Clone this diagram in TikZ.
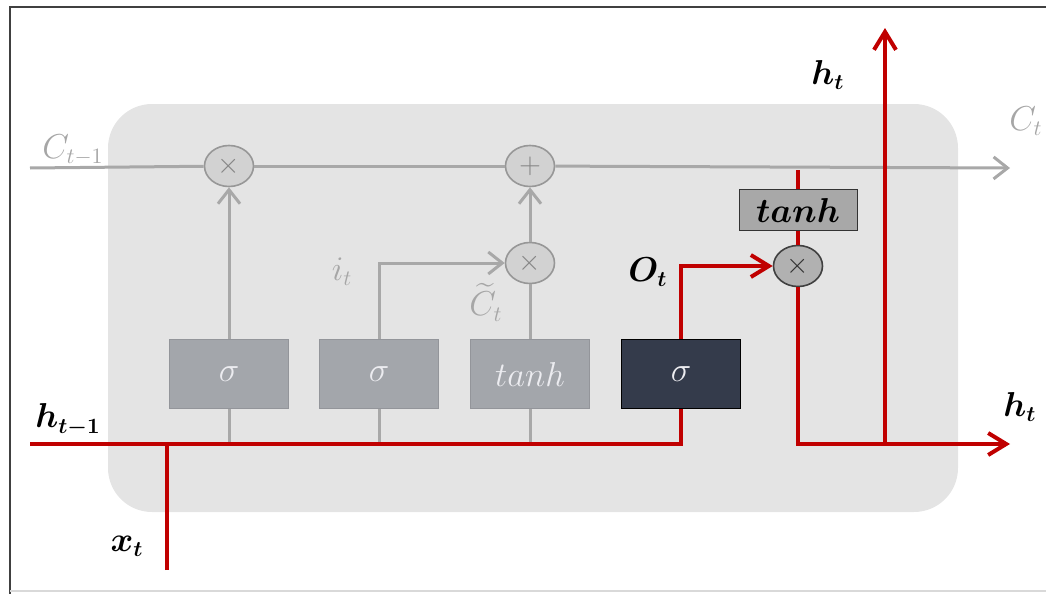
\documentclass[tikz,border=0pt]{standalone}
\usepackage{amsmath,amssymb,bm}
\usepackage{tikz}
\usetikzlibrary{arrows.meta,positioning,calc,shapes.geometric}

\definecolor{hred}{HTML}{C00000}
\definecolor{cgray}{HTML}{A8A8A8}
\definecolor{cellbg}{HTML}{E4E4E4}
\definecolor{gatefill}{HTML}{A3A6AB}
\definecolor{gatetext}{HTML}{ECECF0}
\definecolor{ogatefill}{HTML}{343B4B}
\definecolor{opfill}{HTML}{D2D2D2}
\definecolor{labgray}{HTML}{A6A6A6}

\begin{document}
\begin{tikzpicture}[x=0.5pt,y=-0.5pt,
  font=\fontsize{16}{19}\selectfont,
  gate/.style={draw=gatefill!90!black,fill=gatefill,text=gatetext,minimum width=59.5pt,minimum height=34.5pt,inner sep=0pt},
  ogate/.style={gate,draw=black,fill=ogatefill},
  op/.style={ellipse,draw=cgray!90!black,fill=opfill,text=cgray!80!black,minimum width=24.5pt,minimum height=20.5pt,inner sep=0pt,line width=0.8pt,font=\fontsize{14}{16}\selectfont},
  oop/.style={op,draw=black!75,fill=cgray!90!white,text=black!80},
  cline/.style={cgray,line width=1.5pt},
  hline/.style={hred,line width=2pt},
  carrow/.style={-{Straight Barb[length=7pt,width=11pt,line width=1.5pt]}},
  harrow/.style={-{Straight Barb[length=9pt,width=11pt,line width=2pt]}},
  glabel/.style={text=labgray,inner sep=1pt}]
  \useasboundingbox (0,0) rectangle (1046,594);
  \draw[black!75,line width=1.2pt] (10,594) -- (10,7) -- (1046,7); % 外枠（左と上）
  \draw[black!15,line width=1pt] (10,591) -- (1046,591); % 外枠（下）
  \fill[cellbg,rounded corners=22pt] (108,104) rectangle (958,512); % セル本体の背景

  % 端点
  \coordinate (cin) at (30,168);
  \coordinate (cout) at (1010,168);
  \coordinate (hin) at (30,444);
  \coordinate (hout) at (1010,444);
  \coordinate (hup) at (885,28);
  \coordinate (xin) at (167,570);
  \coordinate (ctap) at (798,170);

  % 演算ノード
  \node[op] (mulf) at (229,166) {$\times$};
  \node[op] (addc) at (530,166) {$+$};
  \node[op] (muli) at (530,263) {$\times$};
  \node[oop] (mulo) at (798,266) {$\times$};

  % ゲート
  \node[gate] (fgate) at (229,374) {$\sigma$};
  \node[gate] (igate) at (379,374) {$\sigma$};
  \node[gate] (cgate) at (530,374) {$tanh$};
  \node[ogate] (ogate) at (681,374) {$\sigma$};
  \node[gate,draw=black!80,fill=cgray,text=black,minimum width=59pt,minimum height=20.5pt] (tanhh) at (798,210) {$\bm{tanh}$};

  % セル状態の流れ（灰色）
  \draw[cline] (cin) -- (mulf);
  \draw[cline] (mulf) -- (addc);
  \draw[cline,carrow] (addc) -- (cout);
  \draw[cline,carrow] (fgate) -- (mulf);
  \draw[cline,carrow] (igate.north) |- (muli);
  \draw[cline] (cgate) -- (muli);
  \draw[cline,carrow] (muli) -- (addc);
  \draw[cline] (fgate.south) -- (fgate.south |- hin);
  \draw[cline] (igate.south) -- (igate.south |- hin);
  \draw[cline] (cgate.south) -- (cgate.south |- hin);

  % 隠れ状態の流れ（赤）
  \draw[hline] (hin) -- (ogate.south |- hin) -- (ogate.south);
  \draw[hline,harrow] (ogate.north) |- (mulo);
  \draw[hline] (xin) -- (xin |- hin);
  \draw[hline] (ctap) -- (tanhh);
  \draw[hline] (tanhh) -- (mulo);
  \draw[hline,harrow] (mulo) -- (mulo |- hout) -- (hout);
  \draw[hline,harrow] (hup |- hout) -- (hup);

  % ラベル
  \node[glabel] (lcin) at (73,150) {$C_{t-1}$};
  \node[glabel] (lcout) at (1026,121) {$C_t$};
  \node[glabel] (lit) at (342,272) {$i_t$};
  \node[glabel] (lct) at (486,302) {$\widetilde{C}_t$};
  \node (lot) at (648,272) {$\bm{O_t}$};
  \node (lhtop) at (828,75) {$\bm{h_t}$};
  \node (lhout) at (1020,407) {$\bm{h_t}$};
  \node (lhin) at (68,420) {$\bm{h_{t-1}}$};
  \node (lxt) at (127,546) {$\bm{x_t}$};
\end{tikzpicture}
\end{document}
